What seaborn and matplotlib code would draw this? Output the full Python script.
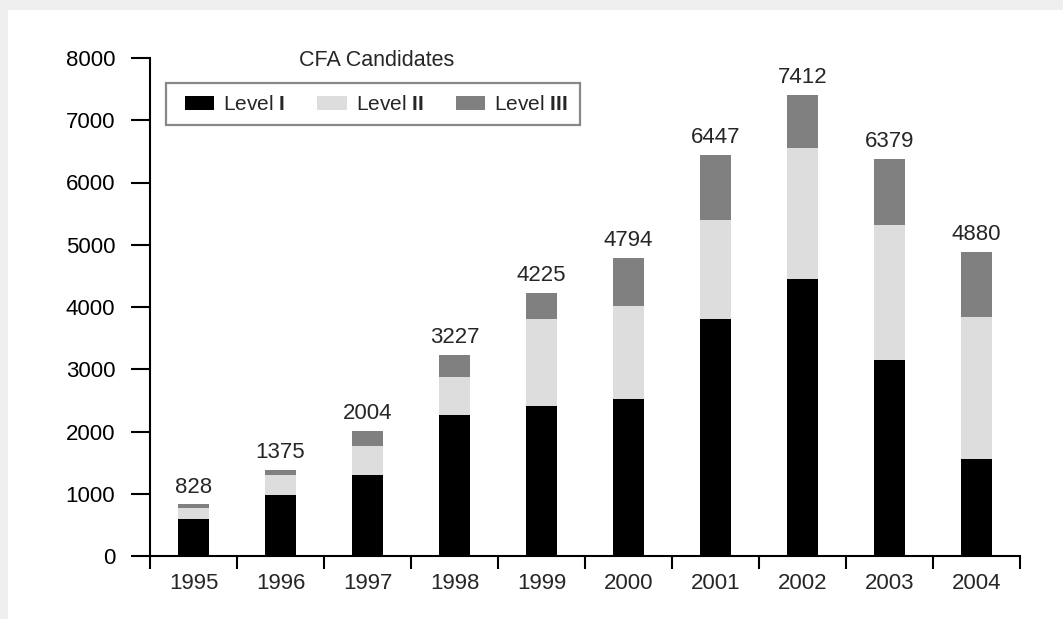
import matplotlib
matplotlib.use('Agg')
import matplotlib.pyplot as plt
import seaborn as sns
import numpy as np
from matplotlib.patches import Rectangle, Patch

# ---- data ----
years = ['1995', '1996', '1997', '1998', '1999', '2000', '2001', '2002', '2003', '2004']
level1 = [595, 980, 1300, 2265, 2410, 2520, 3805, 4450, 3150, 1560]
level2 = [180, 320, 467, 610, 1397, 1495, 1590, 2105, 2167, 2280]
level3 = [53, 75, 237, 352, 418, 779, 1052, 857, 1062, 1040]
totals = [828, 1375, 2004, 3227, 4225, 4794, 6447, 7412, 6379, 4880]
series_names = ['Level I', 'Level II', 'Level III']
legend_labels = ['Level $\\mathbf{I}$', 'Level $\\mathbf{II}$', 'Level $\\mathbf{III}$']
colors = ['#000000', '#dddddd', '#808080']
title = 'CFA Candidates'

sns.set_style('white')
plt.rcParams['font.family'] = ['Liberation Sans', 'DejaVu Sans']
plt.rcParams['mathtext.fontset'] = 'custom'
plt.rcParams['mathtext.rm'] = 'Liberation Sans'
plt.rcParams['mathtext.bf'] = 'Liberation Sans:bold'

FS = 16
W, H = 1063, 619
fig = plt.figure(figsize=(W / 100, H / 100), dpi=100, facecolor='#efefef')
bg = Rectangle((8 / W, 0), 1, 1 - 10 / H, transform=fig.transFigure,
               facecolor='white', edgecolor='none', zorder=-10)
fig.add_artist(bg)

ax = fig.add_axes([150 / W, 1 - 556 / H, 870 / W, 498 / H])
ax.set_facecolor('white')

l1 = np.array(level1)
l12 = l1 + np.array(level2)
l123 = l12 + np.array(level3)

for vals, c in [(l123, colors[2]), (l12, colors[1]), (l1, colors[0])]:
    sns.barplot(x=years, y=vals, color=c, width=0.36, saturation=1,
                linewidth=0, ax=ax)

ax.set_xlim(-0.5, 9.5)
ax.set_ylim(0, 8000)
ax.set_yticks(range(0, 8001, 1000))
ax.set_xticks(range(len(years)))
ax.set_xticklabels(years)
ax.set_xticks(np.arange(-0.5, len(years)), minor=True)
ax.tick_params(axis='y', left=True, length=14, width=1.5, pad=11,
               labelsize=FS, direction='out', colors='black')
ax.tick_params(axis='x', which='major', length=0, pad=12, labelsize=FS)
ax.tick_params(axis='x', which='minor', bottom=True, length=9, width=1.5,
               direction='out', color='black')
ax.set_xlabel('')
ax.set_ylabel('')
for s in ['top', 'right']:
    ax.spines[s].set_visible(False)
for s in ['left', 'bottom']:
    ax.spines[s].set_linewidth(1.5)
    ax.spines[s].set_color('black')

for i, t in enumerate(totals):
    ax.annotate(str(t), (i, l123[i]), xytext=(0, 5), textcoords='offset points',
                ha='center', va='bottom', fontsize=FS)

# legend frame
frame = Rectangle((166 / W, 1 - 125 / H), (580 - 166) / W, 42 / H,
                  transform=fig.transFigure, facecolor='white',
                  edgecolor='#888888', linewidth=1.6, zorder=5)
fig.add_artist(frame)

handles = [Patch(facecolor=c, edgecolor='none') for c in colors]
leg = fig.legend(handles, legend_labels, ncol=3, loc='center left',
                 bbox_to_anchor=(185 / W, 1 - 105 / H), frameon=False,
                 fontsize=15, handlelength=1.4, handleheight=0.67,
                 handletextpad=0.43, columnspacing=1.55, borderpad=0,
                 borderaxespad=0)
leg.set_zorder(6)

fig.text(377 / W, 1 - 60 / H, title, ha='center', va='center', fontsize=15.5)

fig.savefig('out.png', dpi=100, facecolor=fig.get_facecolor())
